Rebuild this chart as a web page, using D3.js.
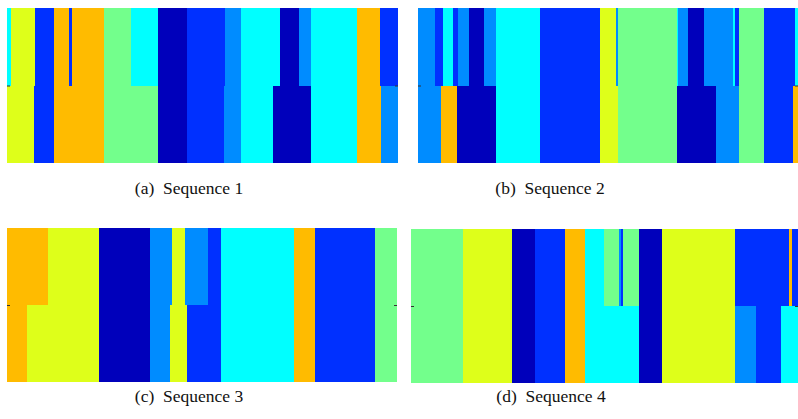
<!DOCTYPE html>
<html>
<head>
<meta charset="utf-8">
<script src="https://cdn.jsdelivr.net/npm/d3@7"></script>
<style>
  html, body { margin: 0; padding: 0; background: #fff; }
  svg { display: block; }
  .cap { font-family: "Liberation Serif", "Times New Roman", Times, "Nimbus Roman", "DejaVu Serif", serif; font-size: 17.5px; fill: #111; }
</style>
</head>
<body>
<svg id="chart" width="798" height="419"></svg>
<script>
// Class palette (jet-like colour map)
const classColors = ["#0000BB", "#0030FF", "#008CFF", "#00FFFF", "#73FF8C", "#DEFF1A", "#FFBB00"];

// Sequence lengths (frames)
const seqLengths = [391, 380, 390, 387];
const captions = ["(a)", "(b)", "(c)", "(d)"];
const seqNames = ["Sequence 1", "Sequence 2", "Sequence 3", "Sequence 4"];

// Segment labels and end frames, top row (ground truth) and bottom row (prediction)
const seq1TopLabels = [3,5,1,6,1,6,4,3,0,1,2,3,0,2,3,6,1];
const seq1TopEnds   = [4,28,47,62,65,97,124,151,180,218,234,273,292,304,350,373,391];
const seq1BotLabels = [5,1,6,4,0,1,2,3,0,3,6,2];
const seq1BotEnds   = [27,47,97,151,180,217,234,266,304,350,374,391];

const seq2TopLabels = [2,1,3,1,2,0,2,3,1,5,2,4,3,2,0,2,3,1,4,1,3];
const seq2TopEnds   = [17,25,35,40,51,66,78,122,182,198,200,259,260,270,286,315,317,321,346,377,380];
const seq2BotLabels = [2,6,0,3,1,5,4,0,2,4,1,6];
const seq2BotEnds   = [23,39,78,122,182,200,259,298,321,346,375,380];

const seq3TopLabels = [6,5,0,2,5,2,1,3,6,1,4];
const seq3TopEnds   = [41,92,143,165,178,201,214,287,308,368,390];
const seq3BotLabels = [6,5,0,2,5,1,3,6,1,4];
const seq3BotEnds   = [20,92,143,163,180,214,287,308,368,390];

const seq4TopLabels = [4,5,0,1,6,3,4,2,1,4,0,5,1,6,1];
const seq4TopEnds   = [52,101,124,154,174,193,208,210,212,228,251,324,378,381,387];
const seq4BotLabels = [4,5,0,1,6,3,0,5,2,1,3];
const seq4BotEnds   = [52,101,124,154,174,228,251,324,345,370,387];

const rowNames = ["GT", "Pred"];

const seqData = [
  [[seq1TopLabels, seq1TopEnds], [seq1BotLabels, seq1BotEnds]],
  [[seq2TopLabels, seq2TopEnds], [seq2BotLabels, seq2BotEnds]],
  [[seq3TopLabels, seq3TopEnds], [seq3BotLabels, seq3BotEnds]],
  [[seq4TopLabels, seq4TopEnds], [seq4BotLabels, seq4BotEnds]]
];

// Layout
const panels = [
  {x0: 7,   x1: 398, y0: 8,   y1: 163, cx: 189, cy: 194},
  {x0: 418, x1: 798, y0: 8,   y1: 163, cx: 550, cy: 194},
  {x0: 7,   x1: 397, y0: 228, y1: 382, cx: 189, cy: 402},
  {x0: 411, x1: 798, y0: 229, y1: 383, cx: 551, cy: 402}
];

const svg = d3.select("#chart");

seqData.forEach((rows, i) => {
  const p = panels[i];
  const x = d3.scaleLinear().domain([0, seqLengths[i]]).range([p.x0, p.x1]);
  const y = d3.scaleBand().domain(rowNames).range([p.y0, p.y1]).paddingInner(0);
  const g = svg.append("g");

  rows.forEach(([labels, ends], r) => {
    const segs = labels.map((lab, k) => ({
      label: lab,
      start: k === 0 ? 0 : ends[k - 1],
      end: ends[k]
    }));
    g.selectAll(null)
      .data(segs)
      .enter()
      .append("rect")
      .attr("x", d => x(d.start))
      .attr("width", d => x(d.end) - x(d.start))
      .attr("y", y(rowNames[r]))
      .attr("height", y.bandwidth())
      .attr("fill", d => classColors[d.label])
      .attr("shape-rendering", "crispEdges");
  });

  // small tick marks at the row boundary (MATLAB style ytick)
  const tickScale = d3.scaleLinear().domain([0, 1]).range([p.y0, p.y1]);
  const tl = svg.append("g").attr("transform", `translate(${p.x0},0)`)
    .call(d3.axisRight(tickScale).tickValues([0.5]).tickSize(3).tickFormat(""));
  tl.select(".domain").remove();
  tl.selectAll("line").attr("stroke", "#333");
  const tr = svg.append("g").attr("transform", `translate(${p.x1},0)`)
    .call(d3.axisLeft(tickScale).tickValues([0.5]).tickSize(3).tickFormat(""));
  tr.select(".domain").remove();
  tr.selectAll("line").attr("stroke", "#333");

  svg.append("text")
    .attr("class", "cap")
    .attr("x", p.cx)
    .attr("y", p.cy)
    .attr("text-anchor", "middle")
    .text(captions[i] + "\u2002" + seqNames[i]);
});
</script>
</body>
</html>
